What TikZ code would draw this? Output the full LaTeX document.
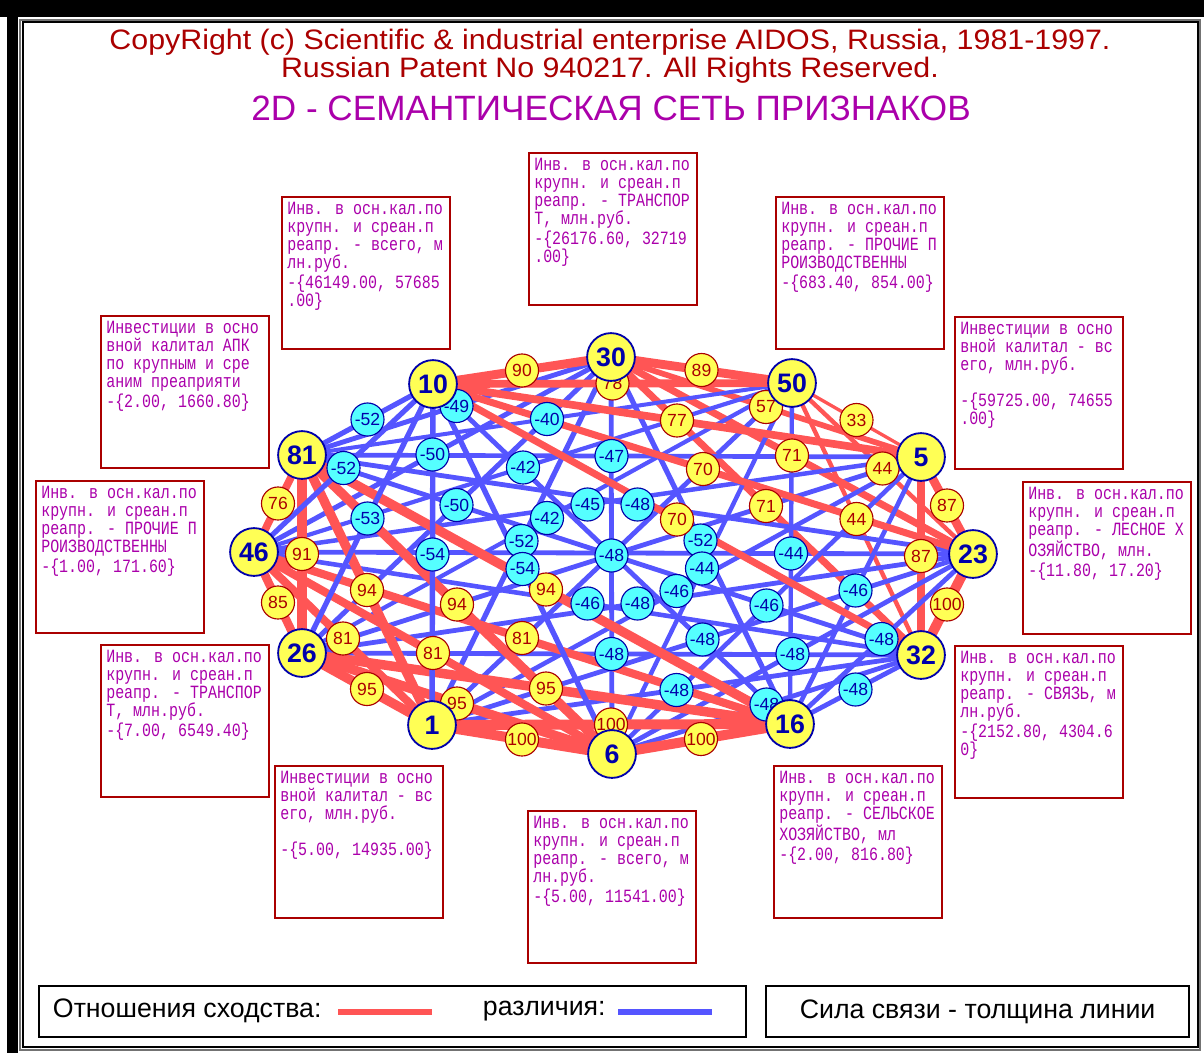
\documentclass[tikz,border=0pt]{standalone}
\usepackage{fontspec}
\setmainfont{Liberation Sans}
\newfontfamily\headfont[FakeStretch=1.08]{Liberation Sans}
\newfontfamily\boxfont[FakeStretch=0.8]{Liberation Mono}

\definecolor{posred}{HTML}{FF5555}
\definecolor{negblue}{HTML}{5555FF}
\definecolor{nodeyel}{HTML}{FFFF55}
\definecolor{labcyan}{HTML}{55FFFF}
\definecolor{darkred}{HTML}{AA0000}
\definecolor{darkmag}{HTML}{AA00AA}
\definecolor{navy}{HTML}{0000AA}

\pgfdeclarelayer{edges}
\pgfdeclarelayer{labels}
\pgfsetlayers{edges,labels,main}

\begin{document}
\begin{tikzpicture}[x=0.025cm, y=-0.025cm,
  feat/.style={circle, fill=nodeyel, draw=navy, line width=1.3pt, minimum size=34pt, inner sep=0pt,
    text=navy, font=\fontsize{19}{19}\selectfont\bfseries},
  plab/.style={circle, fill=nodeyel, draw=darkred, line width=0.8pt, minimum size=23.5pt, inner sep=0pt,
    text=darkred, font=\fontsize{12.5}{12.5}\selectfont},
  nlab/.style={plab, fill=labcyan, draw=navy, text=navy},
  infobox/.style={draw=darkred, line width=1.4pt, minimum width=4.2cm, minimum height=3.8cm, anchor=north west},
  infotext/.style={anchor=north west, inner sep=0pt, align=left, text=darkmag,
    font=\boxfont\fontsize{13.3}{12.8}\selectfont},
  legtext/.style={font=\fontsize{19}{19}\selectfont, text=black}]

\useasboundingbox (0,0) rectangle (1204,1053);

% frame
\fill[black] (0,0) rectangle (1204,17);
\fill[black] (7,0) rectangle (18,1053);
\draw[black!55, line width=0.8pt] (20,20) rectangle (1200,1050);
\draw[black, line width=1.2pt] (23,22) rectangle (1198,1047);

% header
\node[anchor=base, text=darkred, font=\headfont\fontsize{20}{20}\selectfont] (copy1) at (610,49)
  {CopyRight (c) Scientific \& industrial enterprise AIDOS, Russia, 1981-1997.};
\node[anchor=base, text=darkred, font=\headfont\fontsize{20}{20}\selectfont] (copy2) at (610,77)
  {Russian Patent No 940217. All Rights Reserved.};
\node[anchor=base, text=darkmag, font=\fontsize{25}{25}\selectfont] (title) at (611,120)
  {2D - СЕМАНТИЧЕСКАЯ СЕТЬ ПРИЗНАКОВ};

% features
\node[feat] (n30) at (611,357) {30};
\node[feat] (n50) at (792,383) {50};
\node[feat] (n5)  at (921,457) {5};
\node[feat] (n23) at (973,554) {23};
\node[feat] (n32) at (921,655) {32};
\node[feat] (n16) at (790,724) {16};
\node[feat] (n6)  at (612,754) {6};
\node[feat] (n1)  at (432,725) {1};
\node[feat] (n26) at (302,653) {26};
\node[feat] (n46) at (254,552) {46};
\node[feat] (n81) at (302,455) {81};
\node[feat] (n10) at (433,384) {10};

% links through the centre share one label
\foreach \a/\b/\v in {50/1/-48, 5/26/-48, 23/46/-48, 32/81/-48, 16/10/-48}{
  \pgfmathsetmacro\lw{abs(\v)/10*0.7113}
  \begin{pgfonlayer}{edges}
    \draw[negblue, line width=\lw pt] (n\a.center) -- (n\b.center);
  \end{pgfonlayer}
}

% links
\foreach \a/\b/\v in {30/50/89, 30/5/57, 30/23/71, 30/32/71, 30/16/-52, 30/6/-48, 30/1/-52,
    30/26/-50, 30/46/-50, 30/81/-49, 30/10/90,
    50/5/33, 50/23/44, 50/32/44, 50/16/-44, 50/6/-44, 50/26/-42, 50/46/-42, 50/81/-40, 50/10/78,
    5/23/87, 5/32/87, 5/16/-46, 5/6/-46, 5/1/-46, 5/46/-45, 5/81/-47, 5/10/77,
    23/32/100, 23/16/-48, 23/6/-48, 23/1/-48, 23/26/-48, 23/81/-48, 23/10/70,
    32/16/-48, 32/6/-48, 32/1/-48, 32/26/-48, 32/46/-46, 32/10/70,
    16/6/100, 16/1/100, 16/26/95, 16/46/81, 16/81/94,
    6/1/100, 6/26/95, 6/46/81, 6/81/94, 6/10/-54,
    1/26/95, 1/46/81, 1/81/94, 1/10/-54,
    26/46/85, 26/81/91, 26/10/-53,
    46/81/76, 46/10/-52,
    81/10/-52}{
  \pgfmathsetmacro\lw{abs(\v)/10*0.7113}
  \ifnum\v<0 \def\ecol{negblue}\def\lsty{nlab}\else\def\ecol{posred}\def\lsty{plab}\fi
  \begin{pgfonlayer}{edges}
    \draw[\ecol, line width=\lw pt] (n\a.center) -- (n\b.center);
  \end{pgfonlayer}
  \begin{pgfonlayer}{labels}
    \path (n\a.center) -- (n\b.center) node[midway, \lsty] (e\a x\b) {\v};
  \end{pgfonlayer}
}

% descriptions
\node[infobox] (b30) at (528,152) {};
\node[infotext] (t30) at ([shift={(6,6)}]b30.north west)
  {Инв. в осн.кал.по\\крупн. и среан.п\\реапр. - ТРАНСПОР\\Т, млн.руб.\\[1.5pt]-\{26176.60, 32719\\.00\}};
\node[infobox] (b50) at (775,196) {};
\node[infotext] (t50) at ([shift={(6,6)}]b50.north west)
  {Инв. в осн.кал.по\\крупн. и среан.п\\реапр. - ПРОЧИЕ П\\РОИЗВОДСТВЕННЫ\\[1.5pt]-\{683.40, 854.00\}};
\node[infobox] (b5) at (954,316) {};
\node[infotext] (t5) at ([shift={(6,6)}]b5.north west)
  {Инвестиции в осно\\вной калитал - вс\\его, млн.руб.\\[12.8pt]-\{59725.00, 74655\\.00\}};
\node[infobox] (b23) at (1022,481) {};
\node[infotext] (t23) at ([shift={(6,6)}]b23.north west)
  {Инв. в осн.кал.по\\крупн. и среан.п\\реапр. - ЛЕСНОЕ Х\\ОЗЯЙСТВО, млн.\\[1.5pt]-\{11.80, 17.20\}};
\node[infobox] (b32) at (954,645) {};
\node[infotext] (t32) at ([shift={(6,6)}]b32.north west)
  {Инв. в осн.кал.по\\крупн. и среан.п\\реапр. - СВЯЗЬ, м\\лн.руб.\\[1.5pt]-\{2152.80, 4304.6\\0\}};
\node[infobox] (b16) at (773,765) {};
\node[infotext] (t16) at ([shift={(6,6)}]b16.north west)
  {Инв. в осн.кал.по\\крупн. и среан.п\\реапр. - СЕЛЬСКОЕ\\ХОЗЯЙСТВО, мл\\[1.5pt]-\{2.00, 816.80\}};
\node[infobox] (b6) at (527,810) {};
\node[infotext] (t6) at ([shift={(6,6)}]b6.north west)
  {Инв. в осн.кал.по\\крупн. и среан.п\\реапр. - всего, м\\лн.руб.\\[1.5pt]-\{5.00, 11541.00\}};
\node[infobox] (b1) at (274,765) {};
\node[infotext] (t1) at ([shift={(6,6)}]b1.north west)
  {Инвестиции в осно\\вной калитал - вс\\его, млн.руб.\\[12.8pt]-\{5.00, 14935.00\}};
\node[infobox] (b26) at (100,644) {};
\node[infotext] (t26) at ([shift={(6,6)}]b26.north west)
  {Инв. в осн.кал.по\\крупн. и среан.п\\реапр. - ТРАНСПОР\\Т, млн.руб.\\[1.5pt]-\{7.00, 6549.40\}};
\node[infobox] (b46) at (35,480) {};
\node[infotext] (t46) at ([shift={(6,6)}]b46.north west)
  {Инв. в осн.кал.по\\крупн. и среан.п\\реапр. - ПРОЧИЕ П\\РОИЗВОДСТВЕННЫ\\[1.5pt]-\{1.00, 171.60\}};
\node[infobox] (b81) at (100,315) {};
\node[infotext] (t81) at ([shift={(6,6)}]b81.north west)
  {Инвестиции в осно\\вной калитал АПК\\по крупным и сре\\аним преаприяти\\[1.5pt]-\{2.00, 1660.80\}};
\node[infobox] (b10) at (281,196) {};
\node[infotext] (t10) at ([shift={(6,6)}]b10.north west)
  {Инв. в осн.кал.по\\крупн. и среан.п\\реапр. - всего, м\\лн.руб.\\[1.5pt]-\{46149.00, 57685\\.00\}};

% legend
\node[draw, line width=1.5pt, minimum width=17.675cm, minimum height=1.275cm, anchor=north west] (leg) at (38,985) {};
\node[legtext, anchor=west] (sim) at (48,1011) {Отношения сходства:};
\draw[posred, line width=4.3pt] (338,1012) -- (432,1012);
\node[legtext, anchor=west] (dif) at (478,1011) {различия:};
\draw[negblue, line width=4.3pt] (618,1012) -- (712,1012);
\node[draw, line width=1.5pt, minimum width=10.575cm, minimum height=1.275cm, anchor=north west] (note) at (765,985) {};
\node[legtext] (force) at (note.center) {Сила связи - толщина линии};

\end{tikzpicture}
\end{document}
